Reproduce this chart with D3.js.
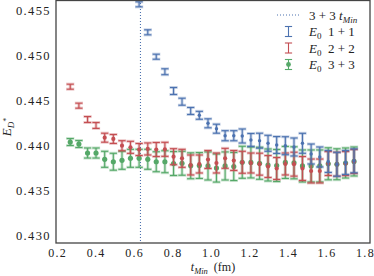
<!DOCTYPE html>
<html><head><meta charset="utf-8">
<script src="https://cdn.jsdelivr.net/npm/d3@7"></script>
<style>
html,body{margin:0;padding:0;background:#fff;}
svg{display:block;}
text{font-family:"Liberation Serif","DejaVu Serif",serif;fill:#222;}
</style></head>
<body>
<svg id="chart" width="374" height="276"></svg>
<script>
// ---- data ----
const tValues = [0.268,0.313,0.358,0.402,0.447,0.492,0.537,0.581,0.626,0.671,0.715,0.760,0.805,0.849,0.894,0.939,0.984,1.028,1.073,1.118,1.162,1.207,1.252,1.296,1.341,1.386,1.431,1.475,1.520,1.565,1.609,1.654,1.699,1.743];

const blueT = [0.626,0.671,0.715,0.760,0.805,0.849,0.894,0.939,0.984,1.028,1.073,1.118,1.162,1.207,1.252,1.296,1.341,1.386,1.431,1.475,1.520,1.565,1.609,1.654,1.699,1.743];
const blueE = [0.45563,0.45252,0.44981,0.44814,0.44600,0.44481,0.44378,0.44330,0.44241,0.44181,0.44103,0.44103,0.44100,0.44056,0.44048,0.44019,0.44000,0.43992,0.43978,0.44019,0.43900,0.43867,0.43817,0.43786,0.43806,0.43824];
const blueErr = [0.00028,0.00028,0.00028,0.00033,0.00039,0.00039,0.00039,0.00044,0.0005,0.0005,0.00056,0.00056,0.00078,0.00072,0.00083,0.00089,0.00094,0.001,0.001,0.00111,0.00111,0.00111,0.00122,0.00133,0.00133,0.00133];
const blueDotFrom = 0.93;

const redE = [0.44648,0.44437,0.44283,0.44217,0.44081,0.44067,0.43992,0.43974,0.43950,0.43956,0.43950,0.43952,0.43870,0.43852,0.43778,0.43789,0.43839,0.43800,0.43852,0.43828,0.43808,0.43800,0.43787,0.43761,0.43739,0.43789,0.43787,0.43739,0.43711,0.43711,0.43794,0.43786,0.43794,0.43817];
const redErr = [0.00028,0.00028,0.00033,0.00033,0.0005,0.0005,0.00056,0.00067,0.00067,0.00067,0.00078,0.00078,0.00089,0.001,0.00111,0.001,0.001,0.00111,0.00111,0.00111,0.00122,0.00111,0.00122,0.00122,0.00122,0.00122,0.00133,0.00133,0.00133,0.00133,0.00133,0.00133,0.00133,0.00133];
const redDotFrom = 0.44;

const greenE = [0.44033,0.44011,0.43911,0.43911,0.43841,0.43814,0.43830,0.43852,0.43852,0.43841,0.43814,0.43814,0.43794,0.43797,0.43769,0.43772,0.43767,0.43744,0.43767,0.43761,0.43808,0.43806,0.43797,0.43778,0.43772,0.43806,0.43802,0.43767,0.43767,0.43767,0.43791,0.43786,0.43800,0.43817];
const greenErr = [0.00039,0.00039,0.00056,0.00056,0.00089,0.00094,0.001,0.001,0.001,0.00111,0.00111,0.00122,0.00133,0.00133,0.00144,0.00144,0.00156,0.00156,0.00156,0.00156,0.00178,0.00172,0.00178,0.00178,0.00178,0.00178,0.00178,0.00178,0.00178,0.00178,0.00178,0.00172,0.00167,0.00161];

const tMin33 = 0.633;
const xTicks = [0.2,0.4,0.6,0.8,1.0,1.2,1.4,1.6,1.8];
const yTicks = [0.430,0.435,0.440,0.445,0.450,0.455];
const colors = {blue:"#4c72b0", red:"#c44e52", green:"#55a868"};

// ---- layout ----
const L = 56, R = 370, T = 0.5, B = 243;
const svg = d3.select("#chart");
const x = d3.scaleLinear().domain([0.194, 1.826]).range([L, R]);
const y = d3.scaleLinear().domain([0.429111, 0.456111]).range([B, 0]);

// tick labels
const xAxis = d3.axisBottom(x).tickValues(xTicks).tickSize(0).tickPadding(0).tickFormat(d3.format(".1f"));
const gx = svg.append("g").attr("transform", `translate(0,${B})`).call(xAxis);
gx.select(".domain").remove();
gx.selectAll("text").attr("dy", null).attr("y", 14).style("font-size","12px").style("letter-spacing","1.3px").style("font-family","Liberation Serif").attr("fill","#222");

const yAxis = d3.axisLeft(y).tickValues(yTicks).tickSize(0).tickPadding(0).tickFormat(d3.format(".3f"));
const gy = svg.append("g").attr("transform", `translate(${L-5},0)`).call(yAxis);
gy.select(".domain").remove();
gy.selectAll("text").attr("x", 0).attr("dy","0.35em").style("font-size","12.5px").style("letter-spacing","1.4px").style("font-family","Liberation Serif").attr("fill","#222");

// vertical dotted line
svg.append("line").attr("x1", x(tMin33)).attr("x2", x(tMin33)).attr("y1", 0).attr("y2", B)
  .attr("stroke", colors.blue).attr("stroke-width", 1.1).attr("stroke-dasharray", "1,2");

function drawSeries(ts, vals, errs, color, dotFrom, r) {
  const g = svg.append("g");
  const cw = 3.6;
  ts.forEach((t, i) => {
    const cx = x(t), y0 = y(vals[i] - errs[i]), y1 = y(vals[i] + errs[i]);
    // halo
    g.append("line").attr("x1",cx).attr("x2",cx).attr("y1",y0).attr("y2",y1).attr("stroke",color).attr("stroke-width",3).attr("opacity",0.28);
    [y0,y1].forEach(yy => g.append("line").attr("x1",cx-cw-0.5).attr("x2",cx+cw+0.5).attr("y1",yy).attr("y2",yy).attr("stroke",color).attr("stroke-width",3).attr("opacity",0.3));
    // main
    g.append("line").attr("x1",cx).attr("x2",cx).attr("y1",y0).attr("y2",y1).attr("stroke",color).attr("stroke-width",1.1);
    [y0,y1].forEach(yy => g.append("line").attr("x1",cx-cw).attr("x2",cx+cw).attr("y1",yy).attr("y2",yy).attr("stroke",color).attr("stroke-width",1.1));
    if (t >= dotFrom) g.append("circle").attr("cx",cx).attr("cy",y(vals[i])).attr("r",r).attr("fill",color);
  });
}
drawSeries(tValues, greenE, greenErr, colors.green, 0, 2.6);
drawSeries(tValues, redE, redErr, colors.red, redDotFrom, 2.1);
drawSeries(blueT, blueE, blueErr, colors.blue, blueDotFrom, 1.7);

// frame
svg.append("rect").attr("x", L).attr("y", T).attr("width", R - L).attr("height", B - T)
  .attr("fill","none").attr("stroke","#444").attr("stroke-width",1.3);

// legend
const lx = 277, lt = 309, rows = [15, 31.5, 48, 64.5];
svg.append("line").attr("x1",lx).attr("x2",lx+23).attr("y1",rows[0]).attr("y2",rows[0])
  .attr("stroke",colors.blue).attr("stroke-width",1.1).attr("stroke-dasharray","1,2");
const leg = [["1+1",colors.blue,false],["2+2",colors.red,false],["3+3",colors.green,true]];
leg.forEach((d,i) => {
  const cy = rows[i+1], cx = lx + 11.5;
  svg.append("line").attr("x1",cx).attr("x2",cx).attr("y1",cy-5).attr("y2",cy+5).attr("stroke",d[1]).attr("stroke-width",1.1);
  [cy-5,cy+5].forEach(yy => svg.append("line").attr("x1",cx-3.6).attr("x2",cx+3.6).attr("y1",yy).attr("y2",yy).attr("stroke",d[1]).attr("stroke-width",1.1));
  if (d[2]) svg.append("circle").attr("cx",cx).attr("cy",cy).attr("r",2.4).attr("fill",d[1]);
});
const fs = "13px";
const t0 = svg.append("text").attr("x", lt).attr("y", rows[0]).attr("dy","0.35em").style("font-size",fs);
t0.append("tspan").text("3 + 3 ");
t0.append("tspan").style("font-style","italic").text("t");
t0.append("tspan").attr("dy", 3).style("font-style","italic").style("font-size","9px").text("Min");
leg.forEach((d,i) => {
  const tt = svg.append("text").attr("x", lt).attr("y", rows[i+1]).attr("dy","0.35em").style("font-size",fs);
  tt.append("tspan").style("font-style","italic").text("E");
  tt.append("tspan").attr("dy", 3).style("font-size","9px").text("0");
  tt.append("tspan").attr("dy", -3).text("\u2002" + d[0].replace("+", " + "));
});

// axis labels
const xl = svg.append("text").attr("x", (L + R) / 2).attr("y", 271).attr("text-anchor","middle").style("font-size","12px");
xl.append("tspan").style("font-style","italic").text("t");
xl.append("tspan").attr("dy", 2.5).style("font-style","italic").style("font-size","8.5px").text("Min");
xl.append("tspan").attr("dy", -2.5).text("\u2002(fm)");

const yl = svg.append("text").attr("transform", "translate(11,127) rotate(-90)").attr("text-anchor","middle").style("font-size","13px");
yl.append("tspan").style("font-style","italic").text("E");
yl.append("tspan").attr("dy", 3).style("font-style","italic").style("font-size","9px").text("D");
yl.append("tspan").attr("dy", -5).style("font-size","8px").text("*");
</script>
</body></html>
